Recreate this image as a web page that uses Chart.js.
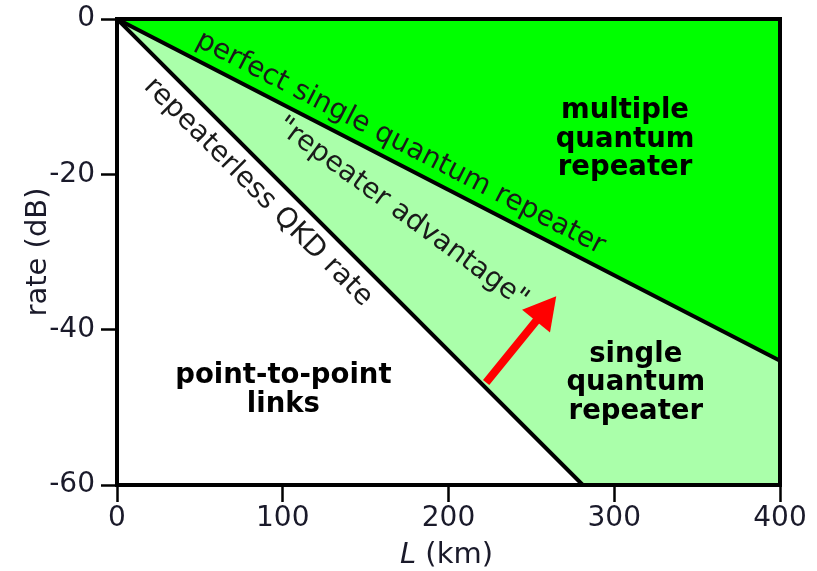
<!DOCTYPE html>
<html>
<head>
<meta charset="utf-8">
<script src="https://cdn.jsdelivr.net/npm/chart.js@4.4.1/dist/chart.umd.min.js"></script>
<style>
  html, body { margin: 0; padding: 0; background: #ffffff; }
  #wrap { width: 817px; height: 571px; position: relative; }
</style>
</head>
<body>
<div id="wrap"><canvas id="c" width="817" height="571"></canvas></div>
<script>
// ---- data ----
const repeaterlessLine = [[0, 0], [281, -60]];      // repeaterless QKD rate (dB)
const perfectRepeaterLine = [[0, 0], [400, -44]];   // perfect single quantum repeater (dB)
const plotCorner = [400, -60];                       // lower-right corner closing the light region
const xTickValues = [0, 100, 200, 300, 400];
const yTickValues = [0, -20, -40, -60];
const xTitleItalic = 'L';
const xTitleRest = ' (km)';
const yTitle = 'rate (dB)';
const lineLabels = ['perfect single quantum repeater', 'repeaterless QKD rate', '"repeater advantage"'];
const regionLabels = [
  ['multiple', 'quantum', 'repeater'],
  ['single', 'quantum', 'repeater'],
  ['point-to-point', 'links']
];
const arrowFrom = [222.7, -46.8];
const arrowTo = [265, -35.7];

const toXY = arr => arr.map(p => ({ x: p[0], y: p[1] }));

const FONT = '"DejaVu Sans", Verdana, sans-serif';

const decorPlugin = {
  id: 'decor',
  afterDatasetsDraw(chart) {
    const ctx = chart.ctx;
    const xs = chart.scales.x, ys = chart.scales.y;
    const a = chart.chartArea;
    const px = v => xs.getPixelForValue(v), py = v => ys.getPixelForValue(v);

    ctx.save();
    // frame
    ctx.strokeStyle = '#000';
    ctx.lineWidth = 4;
    ctx.strokeRect(a.left, a.top, a.right - a.left, a.bottom - a.top);

    // angles of the two lines
    const angOf = line => Math.atan2(py(line[1][1]) - py(line[0][1]), px(line[1][0]) - px(line[0][0]));
    const angP = angOf(perfectRepeaterLine);
    const angR = angOf(repeaterlessLine);

    // rotated line labels
    const rot = [
      { t: lineLabels[0], x: 171, y: -16.0, ang: angP },
      { t: lineLabels[1], x: 85, y: -22.3, ang: angR },
      { t: lineLabels[2], x: 172, y: -25.0, ang: (angP + angR) / 2 }
    ];
    ctx.fillStyle = '#1a1a1a';
    ctx.font = '28px ' + FONT;
    ctx.textAlign = 'center';
    ctx.textBaseline = 'middle';
    rot.forEach(r => {
      ctx.save();
      ctx.translate(px(r.x), py(r.y));
      ctx.rotate(r.ang);
      ctx.fillText(r.t, 0, 0);
      ctx.restore();
    });

    // bold region labels
    const regPos = [[306.5, -15.5], [313, -46.9], [100.4, -47.8]];
    ctx.fillStyle = '#000';
    ctx.font = 'bold 27.5px ' + FONT;
    const lh = 28.5;
    regionLabels.forEach((lines, i) => {
      const cx = px(regPos[i][0]), cy = py(regPos[i][1]);
      const y0 = cy - (lines.length - 1) * lh / 2;
      lines.forEach((s, j) => ctx.fillText(s, cx, y0 + j * lh));
    });

    // red arrow
    const tx = px(arrowFrom[0]), ty = py(arrowFrom[1]);
    const hx = px(arrowTo[0]), hy = py(arrowTo[1]);
    const ang = Math.atan2(hy - ty, hx - tx);
    const headLen = 32, headHalf = 18;
    const bx = hx - headLen * Math.cos(ang), by = hy - headLen * Math.sin(ang);
    ctx.strokeStyle = '#ff0000';
    ctx.fillStyle = '#ff0000';
    ctx.lineWidth = 8;
    ctx.lineCap = 'butt';
    ctx.beginPath();
    ctx.moveTo(tx, ty);
    ctx.lineTo(bx + 2 * Math.cos(ang), by + 2 * Math.sin(ang));
    ctx.stroke();
    ctx.beginPath();
    ctx.moveTo(hx, hy);
    ctx.lineTo(bx + headHalf * Math.sin(ang), by - headHalf * Math.cos(ang));
    ctx.lineTo(bx - headHalf * Math.sin(ang), by + headHalf * Math.cos(ang));
    ctx.closePath();
    ctx.fill();

    // axis titles
    ctx.fillStyle = '#1a1a2a';
    ctx.textBaseline = 'middle';
    ctx.font = 'italic 29px ' + FONT;
    const wL = ctx.measureText(xTitleItalic).width;
    ctx.font = '29px ' + FONT;
    const wR = ctx.measureText(xTitleRest).width;
    const cxT = (a.left + a.right) / 2 - 2;
    let sx = cxT - (wL + wR) / 2;
    ctx.textAlign = 'left';
    ctx.font = 'italic 29px ' + FONT;
    ctx.fillText(xTitleItalic, sx, 555);
    ctx.font = '29px ' + FONT;
    ctx.fillText(xTitleRest, sx + wL, 555);

    ctx.save();
    ctx.translate(38, (a.top + a.bottom) / 2);
    ctx.rotate(-Math.PI / 2);
    ctx.textAlign = 'center';
    ctx.fillText(yTitle, 0, 0);
    ctx.restore();

    ctx.restore();
  }
};

new Chart(document.getElementById('c'), {
  type: 'scatter',
  data: {
    datasets: [
      {
        label: 'light region',
        data: toXY(repeaterlessLine.concat([plotCorner])),
        showLine: true,
        fill: 'end',
        backgroundColor: '#aaffaa',
        borderWidth: 0,
        borderColor: 'rgba(0,0,0,0)',
        pointRadius: 0,
        order: 3
      },
      {
        label: 'perfect single quantum repeater',
        data: toXY(perfectRepeaterLine),
        showLine: true,
        fill: 'end',
        backgroundColor: '#00ff00',
        borderColor: '#000',
        borderWidth: 4,
        pointRadius: 0,
        order: 2
      },
      {
        label: 'repeaterless QKD rate',
        data: toXY(repeaterlessLine),
        showLine: true,
        fill: false,
        borderColor: '#000',
        borderWidth: 4,
        pointRadius: 0,
        order: 1
      }
    ]
  },
  options: {
    responsive: false,
    animation: false,
    devicePixelRatio: 1,
    layout: { padding: { left: 0, top: 19, right: 37, bottom: 0 } },
    plugins: { legend: { display: false }, tooltip: { enabled: false } },
    scales: {
      x: {
        type: 'linear',
        min: 0, max: 400,
        afterBuildTicks: s => { s.ticks = xTickValues.map(v => ({ value: v })); },
        afterFit: s => { s.height = 86; s.paddingLeft = 0; s.paddingRight = 0; },
        border: { display: false },
        grid: { display: true, drawOnChartArea: false, drawTicks: true, tickLength: 17, tickWidth: 2.5, tickColor: '#000' },
        ticks: { color: '#1a1a2a', font: { family: FONT, size: 28 }, padding: 0, maxRotation: 0 }
      },
      y: {
        type: 'linear',
        min: -60, max: 0,
        afterBuildTicks: s => { s.ticks = yTickValues.map(v => ({ value: v })); },
        afterFit: s => { s.width = 117; s.paddingTop = 0; s.paddingBottom = 0; },
        border: { display: false },
        grid: { display: true, drawOnChartArea: false, drawTicks: true, tickLength: 16, tickWidth: 2.5, tickColor: '#000' },
        ticks: { color: '#1a1a2a', font: { family: FONT, size: 28 }, padding: 6 }
      }
    }
  },
  plugins: [decorPlugin]
});
</script>
</body>
</html>
